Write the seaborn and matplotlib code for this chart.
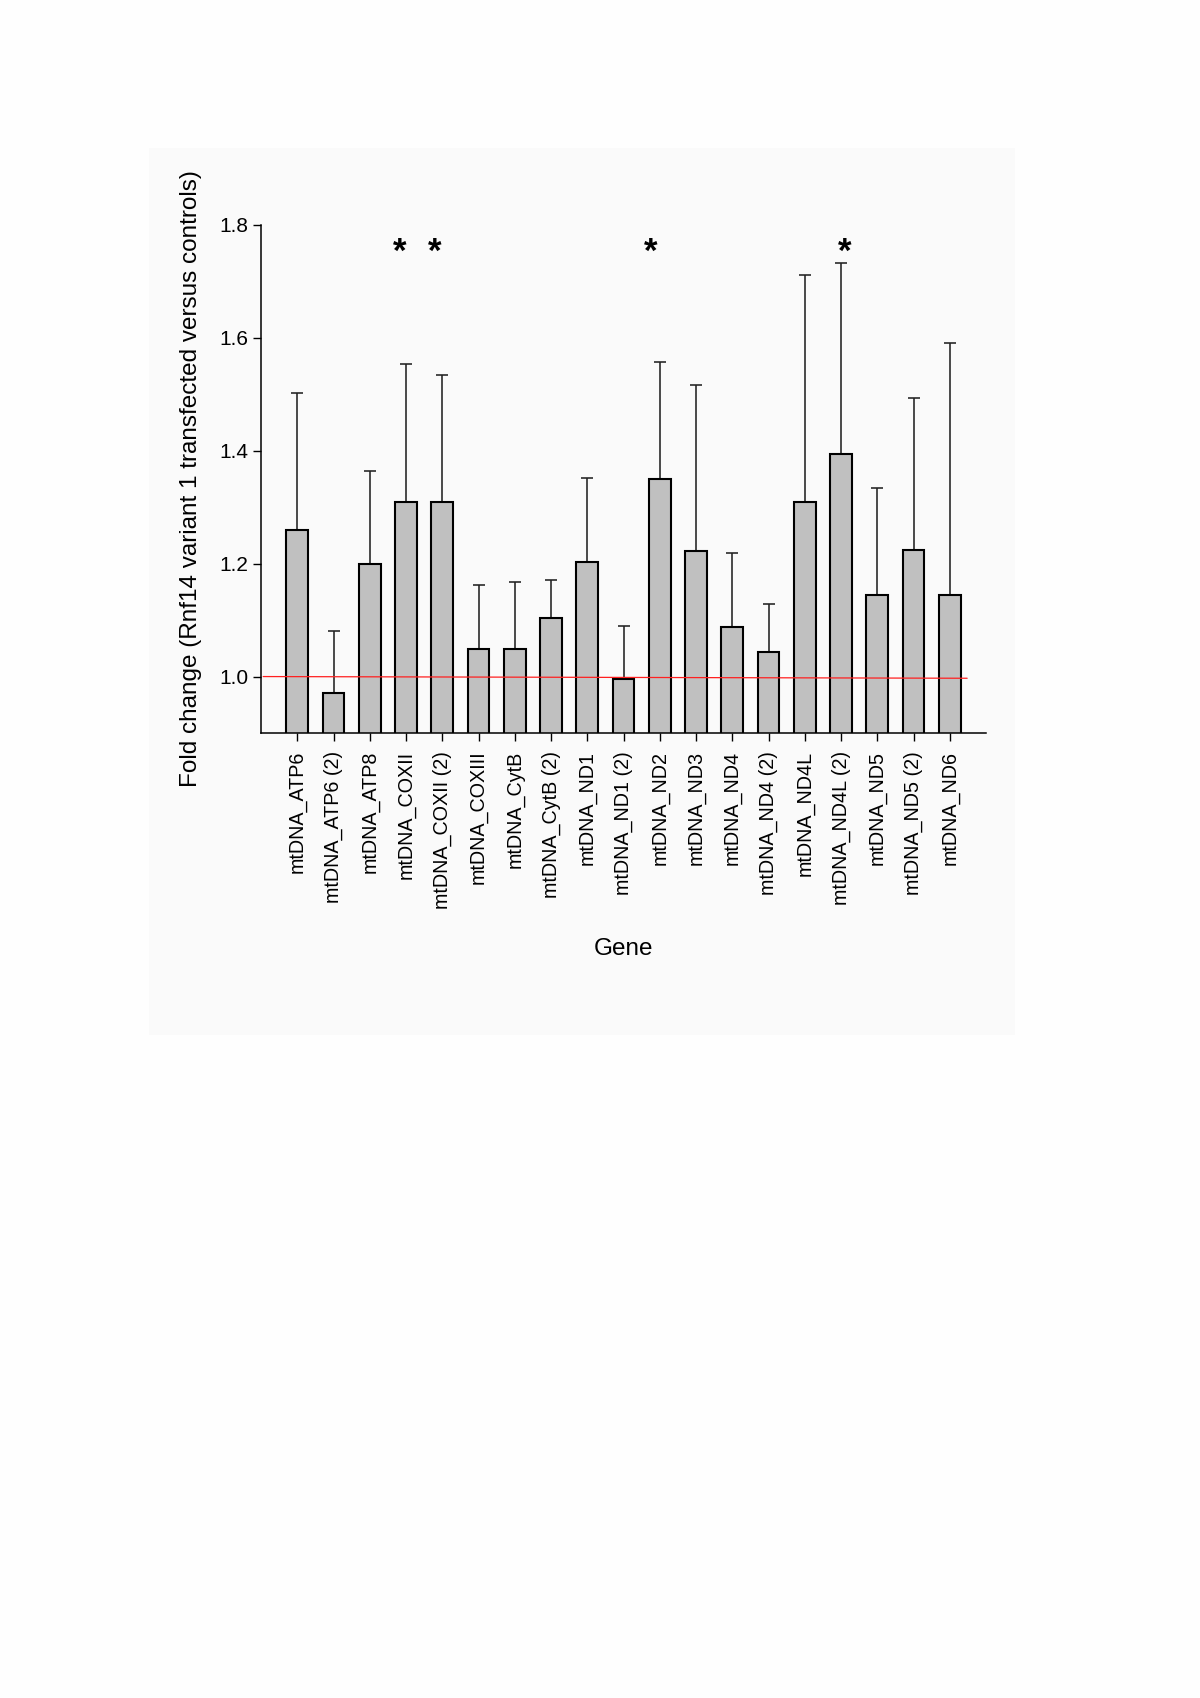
import matplotlib
matplotlib.use("Agg")
import matplotlib.pyplot as plt
import seaborn as sns
import pandas as pd
import numpy as np
from matplotlib.patches import Rectangle

# ---- data ----
genes = ["mtDNA_ATP6", "mtDNA_ATP6 (2)", "mtDNA_ATP8", "mtDNA_COXII", "mtDNA_COXII (2)",
         "mtDNA_COXIII", "mtDNA_CytB", "mtDNA_CytB (2)", "mtDNA_ND1", "mtDNA_ND1 (2)",
         "mtDNA_ND2", "mtDNA_ND3", "mtDNA_ND4", "mtDNA_ND4 (2)", "mtDNA_ND4L",
         "mtDNA_ND4L (2)", "mtDNA_ND5", "mtDNA_ND5 (2)", "mtDNA_ND6"]
fold_change = [1.260, 0.970, 1.200, 1.309, 1.310,
               1.048, 1.049, 1.103, 1.203, 0.996,
               1.350, 1.222, 1.087, 1.043, 1.309,
               1.395, 1.144, 1.225, 1.145]
upper_error = [1.503, 1.080, 1.364, 1.553, 1.535,
               1.162, 1.168, 1.171, 1.351, 1.089,
               1.558, 1.517, 1.219, 1.128, 1.712,
               1.733, 1.334, 1.494, 1.591]
significant = ["mtDNA_COXII", "mtDNA_COXII (2)", "mtDNA_ND2", "mtDNA_ND4L (2)"]
star_level = 1.735
yticks = [1.0, 1.2, 1.4, 1.6, 1.8]
ref_line_x = [-0.94, 18.48]
ref_line_y = [1.000, 0.997]

df = pd.DataFrame({"Gene": genes, "Fold": fold_change, "Upper": upper_error})

# ---- style ----
sns.set_style("ticks")
plt.rcParams["font.family"] = ["Liberation Sans", "DejaVu Sans"]
plt.rcParams["text.color"] = "black"
plt.rcParams["axes.labelcolor"] = "black"
plt.rcParams["xtick.color"] = "black"
plt.rcParams["ytick.color"] = "black"

fig = plt.figure(figsize=(12, 16.98), dpi=100, facecolor="#fefefe")
# light panel behind the chart
panel = Rectangle((149 / 1200, 1 - 1035 / 1698), (1015 - 149) / 1200, (1035 - 148) / 1698,
                  transform=fig.transFigure, facecolor="#fafafa", edgecolor="none", zorder=-10)
fig.add_artist(panel)

ax = fig.add_axes([261 / 1200, 1 - 733 / 1698, (986 - 261) / 1200, (733 - 225) / 1698])
ax.set_facecolor("none")
ax.set_zorder(5)

sns.barplot(data=df, x="Gene", y="Fold", order=genes, color="#c0c0c0", saturation=1,
            edgecolor="black", linewidth=1.5, width=0.6, errorbar=None, ax=ax, zorder=2)

x = np.arange(len(genes))
means = df["Fold"].to_numpy()
err_hi = df["Upper"].to_numpy() - means
ax.errorbar(x, means, yerr=[np.zeros_like(err_hi), err_hi], fmt="none",
            ecolor="#222222", elinewidth=1.15, capsize=4.4, capthick=1.15, zorder=1)

# reference line at 1.0
ax.plot(ref_line_x, ref_line_y, color="#ff2020", linewidth=0.9, zorder=3)

# significance stars
star_offsets = {"mtDNA_COXII": -0.18, "mtDNA_COXII (2)": -0.22, "mtDNA_ND2": -0.24, "mtDNA_ND4L (2)": 0.11}
for g in significant:
    i = genes.index(g)
    ax.text(i + star_offsets[g], star_level, "*", ha="center", va="baseline",
            fontsize=25, fontweight="bold", color="black")

ax.set_ylim(0.9, 1.8)
ax.set_xlim(-1, 19)
ax.set_yticks(yticks)
ax.set_yticklabels([f"{v:.1f}" for v in yticks])
ax.tick_params(axis="both", direction="out", length=5.8, width=1.0, color="black", labelcolor="black")
ax.tick_params(axis="x", pad=7, labelsize=14.2)
ax.tick_params(axis="y", labelsize=15)
plt.setp(ax.get_xticklabels(), rotation=90, ha="center", va="top")

for s in ["top", "right"]:
    ax.spines[s].set_visible(False)
for s in ["left", "bottom"]:
    ax.spines[s].set_linewidth(1.1)
    ax.spines[s].set_color("black")

ax.set_xlabel("Gene", fontsize=17.5, labelpad=21, color="black")
ax.set_ylabel("Fold change (Rnf14 variant 1 transfected versus controls)", fontsize=17.5, labelpad=12, color="black")

fig.savefig("out.png", dpi=100, facecolor=fig.get_facecolor())
